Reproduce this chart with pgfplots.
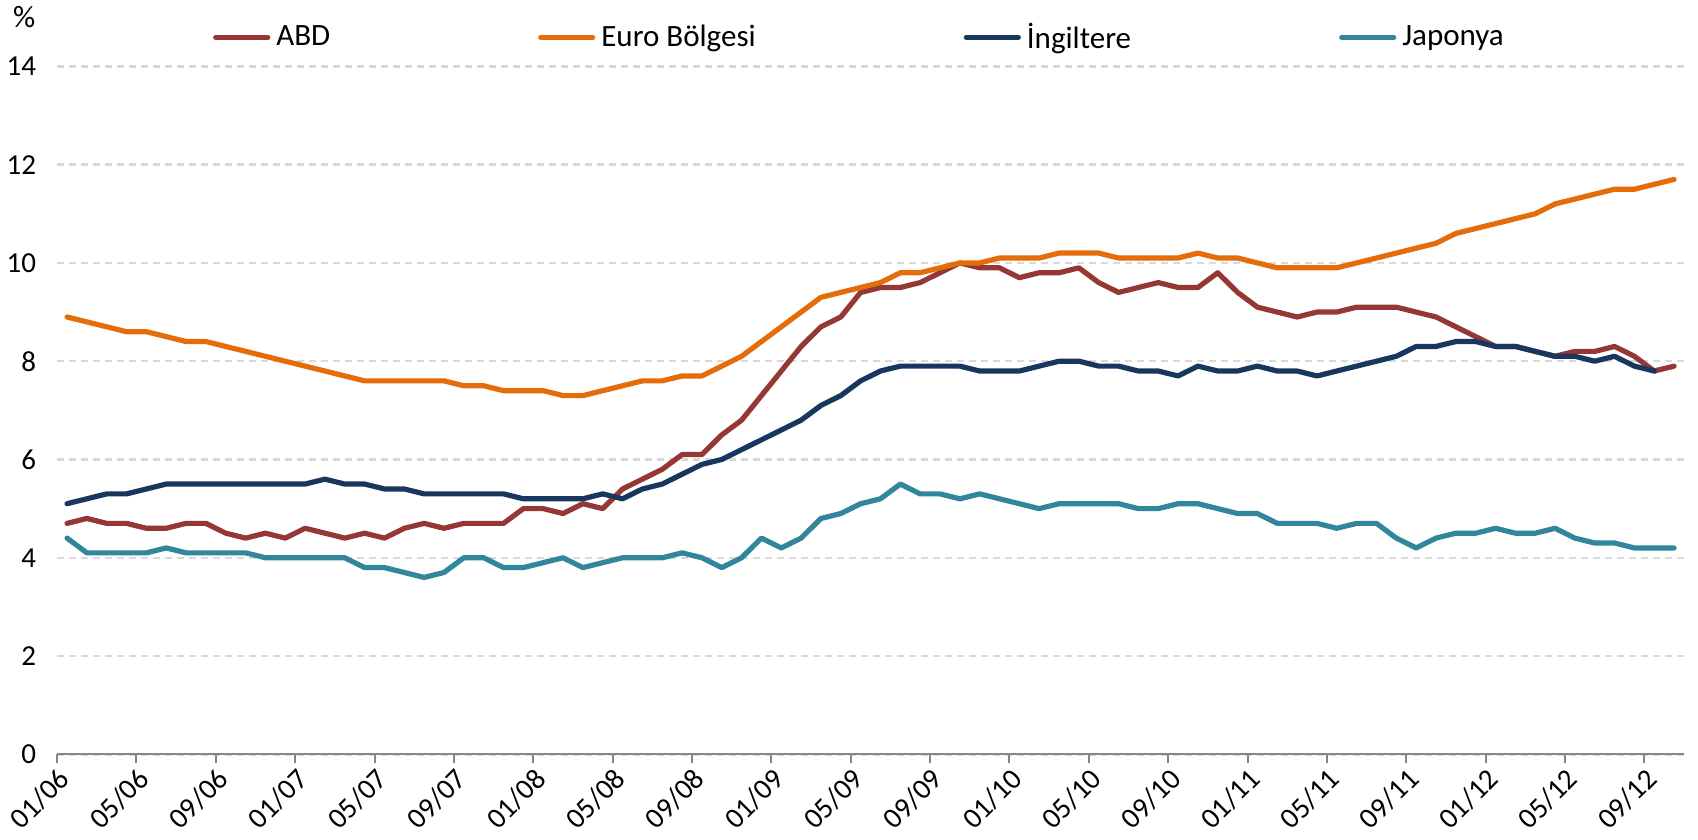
\documentclass[border=0pt]{standalone}
\usepackage{fontspec}
\setmainfont{Carlito}
\usepackage{pgfplots}
\usepackage{pgfplotstable}
\pgfplotsset{compat=1.18}
\definecolor{cABD}{HTML}{953735}
\definecolor{cEUR}{HTML}{E46C0A}
\definecolor{cING}{HTML}{17375E}
\definecolor{cJAP}{HTML}{31859C}
\definecolor{cAx}{HTML}{868686}
\definecolor{cGrid}{HTML}{D9D9D9}
\pgfplotstableread{
i abd euro ing jap
0 4.7 8.9 5.1 4.4
1 4.8 8.8 5.2 4.1
2 4.7 8.7 5.3 4.1
3 4.7 8.6 5.3 4.1
4 4.6 8.6 5.4 4.1
5 4.6 8.5 5.5 4.2
6 4.7 8.4 5.5 4.1
7 4.7 8.4 5.5 4.1
8 4.5 8.3 5.5 4.1
9 4.4 8.2 5.5 4.1
10 4.5 8.1 5.5 4.0
11 4.4 8.0 5.5 4.0
12 4.6 7.9 5.5 4.0
13 4.5 7.8 5.6 4.0
14 4.4 7.7 5.5 4.0
15 4.5 7.6 5.5 3.8
16 4.4 7.6 5.4 3.8
17 4.6 7.6 5.4 3.7
18 4.7 7.6 5.3 3.6
19 4.6 7.6 5.3 3.7
20 4.7 7.5 5.3 4.0
21 4.7 7.5 5.3 4.0
22 4.7 7.4 5.3 3.8
23 5.0 7.4 5.2 3.8
24 5.0 7.4 5.2 3.9
25 4.9 7.3 5.2 4.0
26 5.1 7.3 5.2 3.8
27 5.0 7.4 5.3 3.9
28 5.4 7.5 5.2 4.0
29 5.6 7.6 5.4 4.0
30 5.8 7.6 5.5 4.0
31 6.1 7.7 5.7 4.1
32 6.1 7.7 5.9 4.0
33 6.5 7.9 6.0 3.8
34 6.8 8.1 6.2 4.0
35 7.3 8.4 6.4 4.4
36 7.8 8.7 6.6 4.2
37 8.3 9.0 6.8 4.4
38 8.7 9.3 7.1 4.8
39 8.9 9.4 7.3 4.9
40 9.4 9.5 7.6 5.1
41 9.5 9.6 7.8 5.2
42 9.5 9.8 7.9 5.5
43 9.6 9.8 7.9 5.3
44 9.8 9.9 7.9 5.3
45 10.0 10.0 7.9 5.2
46 9.9 10.0 7.8 5.3
47 9.9 10.1 7.8 5.2
48 9.7 10.1 7.8 5.1
49 9.8 10.1 7.9 5.0
50 9.8 10.2 8.0 5.1
51 9.9 10.2 8.0 5.1
52 9.6 10.2 7.9 5.1
53 9.4 10.1 7.9 5.1
54 9.5 10.1 7.8 5.0
55 9.6 10.1 7.8 5.0
56 9.5 10.1 7.7 5.1
57 9.5 10.2 7.9 5.1
58 9.8 10.1 7.8 5.0
59 9.4 10.1 7.8 4.9
60 9.1 10.0 7.9 4.9
61 9.0 9.9 7.8 4.7
62 8.9 9.9 7.8 4.7
63 9.0 9.9 7.7 4.7
64 9.0 9.9 7.8 4.6
65 9.1 10.0 7.9 4.7
66 9.1 10.1 8.0 4.7
67 9.1 10.2 8.1 4.4
68 9.0 10.3 8.3 4.2
69 8.9 10.4 8.3 4.4
70 8.7 10.6 8.4 4.5
71 8.5 10.7 8.4 4.5
72 8.3 10.8 8.3 4.6
73 8.3 10.9 8.3 4.5
74 8.2 11.0 8.2 4.5
75 8.1 11.2 8.1 4.6
76 8.2 11.3 8.1 4.4
77 8.2 11.4 8.0 4.3
78 8.3 11.5 8.1 4.3
79 8.1 11.5 7.9 4.2
80 7.8 11.6 7.8 4.2
81 7.9 11.7 nan 4.2
}\datatable
\begin{document}
\begin{tikzpicture}
\begin{axis}[
  name=ax,
  scale only axis, width=813.5pt, height=344pt,
  xmin=-0.5, xmax=81.5, ymin=0, ymax=14,
  axis x line*=bottom, axis y line*=left,
  y axis line style={draw=none},
  x axis line style={draw=cAx, line width=1pt},
  xtick={-0.5,3.5,...,79.5},
  xticklabels={01/06,05/06,09/06,01/07,05/07,09/07,01/08,05/08,09/08,01/09,05/09,09/09,01/10,05/10,09/10,01/11,05/11,09/11,01/12,05/12,09/12},
  xtick align=outside, major tick length=4.5pt,
  xtick style={draw=cAx, line width=1pt},
  ytick={0,2,...,14}, ytick style={draw=none},
  ymajorgrids,
  grid style={draw=cGrid, line width=1.2pt, dash pattern=on 3.5pt off 2.5pt},
  /pgf/number format/assume math mode=true,
  tick label style={font=\fontsize{14.5}{17}\selectfont, text=black},
  xticklabel style={rotate=45, anchor=north east, inner sep=1pt},
  yticklabel style={xshift=-7pt},
  legend columns=4,
  legend image code/.code={\draw[#1, line cap=round] (0pt,0pt) -- (26pt,0pt);},
  legend style={draw=none, fill=none, inner sep=0pt, outer sep=0pt,
    at={(axis description cs:0,1)}, anchor=west, xshift=78pt, yshift=14.5pt,
    font=\fontsize{15.5}{18}\selectfont, nodes={inner sep=0pt},
    /tikz/every odd column/.append style={column sep=3pt},
    /tikz/every even column/.append style={column sep=104pt}},
  every axis plot/.append style={line width=2.6pt, line join=round, line cap=round},
]
\addplot[cABD] table[x=i, y=abd] {\datatable};
\addlegendentry{ABD}
\addplot[cEUR] table[x=i, y=euro] {\datatable};
\addlegendentry{Euro Bölgesi}
\addplot[cING] table[x=i, y=ing] {\datatable};
\addlegendentry{İngiltere}
\addplot[cJAP] table[x=i, y=jap] {\datatable};
\addlegendentry{Japonya}
\end{axis}
\node[font=\fontsize{15.5}{18}\selectfont] at ([shift={(-16.5pt,24.5pt)}]ax.north west) {\%};
\path ([shift={(-28.5pt,-42.5pt)}]ax.south west) rectangle ([shift={(7pt,32.5pt)}]ax.north east);
\end{tikzpicture}
\end{document}
